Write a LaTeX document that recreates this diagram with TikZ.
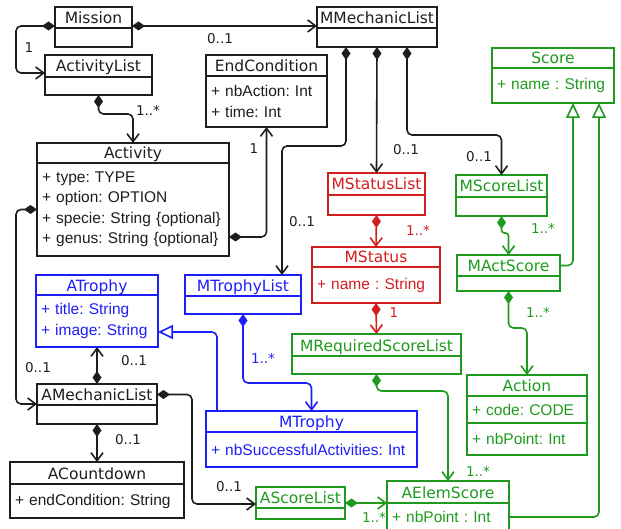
\documentclass[tikz,border=0pt]{standalone}
\usepackage{fontspec}
\setmainfont{Liberation Sans}
\newfontfamily\titrefont{DejaVu Sans}
\newcommand\fnttitre{\titrefont\fontsize{15.5}{18}\selectfont}
\newcommand\fntattr{\fontsize{15.5}{20.5}\selectfont\frenchspacing}
\newcommand\fntmult{\titrefont\fontsize{13.5}{16}\selectfont}
\usetikzlibrary{arrows.meta}
\definecolor{umlnoir}{RGB}{30,30,30}
\definecolor{umlrouge}{RGB}{212,30,30}
\definecolor{umlbleu}{RGB}{30,30,250}
\definecolor{umlvert}{RGB}{30,155,30}
\begin{document}
\begin{tikzpicture}[x=1pt,y=-1pt]
\tikzset{entete/.style={draw, line width=1.6pt, anchor=north west, inner sep=0pt, outer sep=0pt, text height=12pt, text depth=0pt, font=\fnttitre},
  corps/.style={draw, line width=1.6pt, anchor=north west, inner xsep=5pt, inner ysep=0pt, outer sep=0pt, align=left, font=\fntattr},
  compo/.style={line width=1.6pt, rounded corners=5pt, {Diamond[length=13pt,width=9pt]}-{Straight Barb[length=8pt,width=12pt]}},
  gener/.style={line width=1.6pt, rounded corners=5pt, -{Triangle[open,length=15pt,width=14pt,fill=white]}},
  mult/.style={font=\fntmult, inner sep=0pt}}
\clip (0,0) rectangle (621,529);
\fill[white] (0,0) rectangle (621,529);
\begin{scope}[umlnoir]
\node[entete, minimum width=77, minimum height=21] (mission) at (55,7) {Mission};
\node[corps, minimum width=77, minimum height=19] (missionb) at (mission.south west) {};
\node[entete, minimum width=107, minimum height=22] (actlist) at (45,55) {ActivityList};
\node[corps, minimum width=107, minimum height=18] (actlistb) at (actlist.south west) {};
\node[entete, minimum width=121, minimum height=21] (endcond) at (206,55) {EndCondition};
\node[corps, text width=111, minimum height=51] (endcondb) at (endcond.south west) {+ nbAction: Int\\+ time: Int};
\node[entete, minimum width=120, minimum height=21] (mmech) at (317,7) {MMechanicList};
\node[corps, minimum width=120, minimum height=19] (mmechb) at (mmech.south west) {};
\node[entete, minimum width=192, minimum height=20] (activity) at (37,143) {Activity};
\node[corps, text width=182, minimum height=93] (activityb) at (activity.south west) {+ type: TYPE\\+ option: OPTION\\+ specie: String \{optional\}\\+ genus: String \{optional\}};
\node[entete, minimum width=120, minimum height=21] (amechlist) at (37,384) {AMechanicList};
\node[corps, minimum width=120, minimum height=19] (amechlistb) at (amechlist.south west) {};
\node[entete, minimum width=174, minimum height=22] (acountdown) at (10,462) {ACountdown};
\node[corps, text width=164, minimum height=34] (acountdownb) at (acountdown.south west) {+ endCondition: String};
\end{scope}
\begin{scope}[umlrouge]
\node[entete, minimum width=97, minimum height=22] (mstatuslist) at (328,173) {MStatusList};
\node[corps, minimum width=97, minimum height=20] (mstatuslistb) at (mstatuslist.south west) {};
\node[entete, minimum width=128, minimum height=20] (mstatus) at (312,247) {MStatus};
\node[corps, text width=118, minimum height=36] (mstatusb) at (mstatus.south west) {+ name : String};
\end{scope}
\begin{scope}[umlbleu]
\node[entete, minimum width=122, minimum height=20] (atrophy) at (36,275) {ATrophy};
\node[corps, text width=112, minimum height=52] (atrophyb) at (atrophy.south west) {+ title: String\\+ image: String};
\node[entete, minimum width=116, minimum height=21] (mtrophylist) at (185,275) {MTrophyList};
\node[corps, minimum width=116, minimum height=18] (mtrophylistb) at (mtrophylist.south west) {};
\node[entete, minimum width=211, minimum height=21] (mtrophy) at (206,411) {MTrophy};
\node[corps, text width=201, minimum height=35] (mtrophyb) at (mtrophy.south west) {+ nbSuccessfulActivities: Int};
\end{scope}
\begin{scope}[umlvert]
\node[entete, minimum width=122, minimum height=20] (score) at (492,48) {Score};
\node[corps, text width=112, minimum height=35] (scoreb) at (score.south west) {+ name : String};
\node[entete, minimum width=91, minimum height=22] (mscorelist) at (456,175) {MScoreList};
\node[corps, minimum width=91, minimum height=19] (mscorelistb) at (mscorelist.south west) {};
\node[entete, minimum width=103, minimum height=21] (mactscore) at (457,255) {MActScore};
\node[corps, minimum width=103, minimum height=15] (mactscoreb) at (mactscore.south west) {};
\node[entete, minimum width=169, minimum height=22] (mreqlist) at (292,334) {MRequiredScoreList};
\node[corps, minimum width=169, minimum height=18] (mreqlistb) at (mreqlist.south west) {};
\node[entete, minimum width=120, minimum height=21] (action) at (467,375) {Action};
\node[corps, text width=110, minimum height=27] (actionb) at (action.south west) {+ code: CODE};
\node[corps, text width=110, minimum height=32] (actionc) at (actionb.south west) {+ nbPoint: Int};
\node[entete, minimum width=89, minimum height=21] (ascorelist) at (256,487) {AScoreList};
\node[corps, minimum width=89, minimum height=11] (ascorelistb) at (ascorelist.south west) {};
\node[entete, minimum width=122, minimum height=22] (aelemscore) at (387,481) {AElemScore};
\node[corps, text width=112, minimum height=28] (aelemscoreb) at (aelemscore.south west) {+ nbPoint : Int};
\end{scope}
\begin{scope}[umlnoir]
\draw[compo] ([yshift=2pt]mission.south west) -- ++(-39,0) |- ([yshift=4pt]actlist.south west);
\draw[compo] ([yshift=2pt]mission.south east) -- ([yshift=2pt]mmech.south west);
\draw[compo] (actlistb.south) -- ++(0,19) -| (activity.north);
\draw[compo] ([yshift=19pt]activityb.south east) -| (endcondb.south);
\draw[compo] ([xshift=-31pt]mmechb.south) -- ++(0,99) -| ([xshift=39pt]mtrophylist.north);
\draw[compo] (mmechb.south) -- (mstatuslist.north);
\draw[compo] ([xshift=30pt]mmechb.south) -- ++(0,88) -| (mscorelist.north);
\draw[compo] (activityb.west) -- ++(-21,0) |- ([yshift=1pt]amechlist.south west);
\draw[compo] (amechlist.north) -- (atrophyb.south);
\draw[compo] (amechlistb.south) -- (acountdown.north);
\draw[compo] (amechlist.east) -- ++(35,0) |- ([yshift=4pt]ascorelist.south west);
\node[mult] (m1) at (29,48) {1};
\node[mult] (m2) at (220,39) {0..1};
\node[mult] (m3) at (148,110) {1..*};
\node[mult] (m4) at (254,149) {1};
\node[mult] (m5) at (302,222) {0..1};
\node[mult] (m6) at (406,150) {0..1};
\node[mult] (m7) at (479,157) {0..1};
\node[mult] (m8) at (38,368) {0..1};
\node[mult] (m9) at (134,361) {0..1};
\node[mult] (m10) at (128,440) {0..1};
\node[mult] (m11) at (229,487) {0..1};
\end{scope}
\begin{scope}[umlrouge]
\draw[compo] (mstatuslistb.south) -- (mstatus.north);
\draw[compo] (mstatusb.south) -- (mreqlist.north);
\node[mult] (m12) at (418,230) {1..*};
\node[mult] (m13) at (394,313) {1};
\end{scope}
\begin{scope}[umlbleu]
\draw[compo] (mtrophylistb.south) -- ++(0,69) -| (mtrophy.north);
\draw[gener] ([xshift=11pt]mtrophy.north west) |- ([yshift=-11pt]atrophyb.east);
\node[mult] (m14) at (263,358) {1..*};
\end{scope}
\begin{scope}[umlvert]
\draw[compo, rounded corners=3pt] (mscorelistb.south) -- ++(0,17) -| (mactscore.north);
\draw[compo] (mactscoreb.south) -- ++(0,37) -| (action.north);
\draw[compo] (mreqlistb.south) -- ++(0,17) -| (aelemscore.north);
\draw[compo] ([yshift=5pt]ascorelist.south east) -- (aelemscore.south west);
\draw[gener] (mactscore.east) -| ([xshift=20pt]scoreb.south);
\draw[gener] (aelemscoreb.east) -| ([xshift=46pt]scoreb.south);
\node[mult] (m15) at (543,228) {1..*};
\node[mult] (m16) at (538,312) {1..*};
\node[mult] (m17) at (478,471) {1..*};
\node[mult] (m18) at (374,517) {1..*};
\end{scope}
\end{tikzpicture}
\end{document}
